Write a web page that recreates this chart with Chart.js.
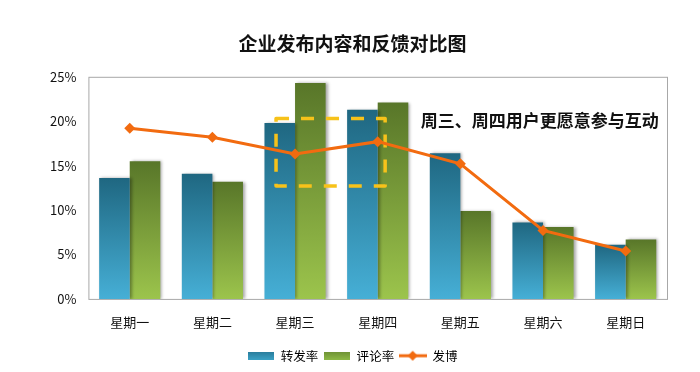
<!DOCTYPE html>
<html>
<head>
<meta charset="utf-8">
<script src="https://cdn.jsdelivr.net/npm/chart.js@4.4.1/dist/chart.umd.min.js"></script>
<style>
  html, body { margin: 0; padding: 0; background: #fff; }
  #wrap { width: 700px; height: 372px; position: relative; }
</style>
</head>
<body>
<div id="wrap"><canvas id="chart"></canvas></div>
<script>
// 数据（单位：%）
const days = ['星期一', '星期二', '星期三', '星期四', '星期五', '星期六', '星期日'];
const forwardRate = [13.6, 14.1, 19.8, 21.3, 16.4, 8.6, 6.1];   // 转发率
const commentRate = [15.5, 13.2, 24.3, 22.1, 9.9, 8.1, 6.7];    // 评论率
const postTrend = [19.2, 18.2, 16.3, 17.7, 15.2, 7.7, 5.4];     // 发博
const yTicks = [0, 5, 10, 15, 20, 25];

// 标注：虚线框范围（类目下标 / 百分比）与说明文字
const noteBoxX = [1.77, 3.09];
const noteBoxY = [12.7, 20.3];
const noteText = '周三、周四用户更愿意参与互动';
const noteAt = [4.96, 20.1];

const FONT = '"Noto Sans CJK SC", "Noto Sans", sans-serif';
const ORANGE = '#f26b10';

// 每根柱子自身从上到下的渐变
function barGradient(top, bottom) {
  return (c) => {
    const chart = c.chart;
    const area = chart.chartArea;
    if (!area || c.raw == null) return bottom;
    const y = chart.scales.y.getPixelForValue(c.raw);
    const g = chart.ctx.createLinearGradient(0, y, 0, area.bottom);
    g.addColorStop(0, top);
    g.addColorStop(1, bottom);
    return g;
  };
}

// 图例小图标
function icon(w, h, draw) {
  const cv = document.createElement('canvas');
  cv.width = w;
  cv.height = h;
  draw(cv.getContext('2d'), w, h);
  return cv;
}
function boxIcon(top, bottom) {
  return icon(26, 8, (ctx, w, h) => {
    const g = ctx.createLinearGradient(0, 0, 0, h);
    g.addColorStop(0, top);
    g.addColorStop(1, bottom);
    ctx.fillStyle = g;
    ctx.fillRect(0, 0, w, h);
  });
}
const lineIcon = icon(28, 12, (ctx, w, h) => {
  ctx.strokeStyle = ORANGE;
  ctx.lineWidth = 3;
  ctx.beginPath();
  ctx.moveTo(0, h / 2);
  ctx.lineTo(w, h / 2);
  ctx.stroke();
  ctx.fillStyle = ORANGE;
  ctx.beginPath();
  ctx.moveTo(w / 2, h / 2 - 5);
  ctx.lineTo(w / 2 + 5, h / 2);
  ctx.lineTo(w / 2, h / 2 + 5);
  ctx.lineTo(w / 2 - 5, h / 2);
  ctx.closePath();
  ctx.fill();
});

// 绘图区外框 + 柱子阴影 + 虚线框标注
const decorPlugin = {
  id: 'decor',
  beforeDatasetsDraw(chart) {
    const { ctx, chartArea: a } = chart;
    ctx.save();
    ctx.strokeStyle = '#a8a8a8';
    ctx.lineWidth = 1;
    ctx.strokeRect(a.left + 0.5, a.top + 0.5, a.right - a.left, a.bottom - a.top);
    ctx.restore();
  },
  beforeDatasetDraw(chart, args) {
    const ctx = chart.ctx;
    if (args.meta.type === 'bar') {
      ctx.save();
      ctx.shadowColor = 'rgba(0,0,0,0.35)';
      ctx.shadowOffsetX = 2;
      ctx.shadowOffsetY = 0;
      ctx.shadowBlur = 3;
    } else {
      const x = chart.scales.x, y = chart.scales.y;
      const l = x.getPixelForValue(noteBoxX[0]), r = x.getPixelForValue(noteBoxX[1]);
      const t = y.getPixelForValue(noteBoxY[1]), b = y.getPixelForValue(noteBoxY[0]);
      ctx.save();
      ctx.strokeStyle = '#f7c21a';
      ctx.lineWidth = 3.5;
      ctx.lineJoin = 'round';
      ctx.setLineDash([13, 12]);
      ctx.strokeRect(l, t, r - l, b - t);
      ctx.restore();
    }
  },
  afterDatasetDraw(chart, args) {
    if (args.meta.type === 'bar') chart.ctx.restore();
  },
  afterDatasetsDraw(chart) {
    const ctx = chart.ctx;
    ctx.save();
    ctx.font = 'bold 17px ' + FONT;
    ctx.fillStyle = '#111';
    ctx.textAlign = 'center';
    ctx.textBaseline = 'middle';
    ctx.fillText(noteText, chart.scales.x.getPixelForValue(noteAt[0]), chart.scales.y.getPixelForValue(noteAt[1]));
    ctx.restore();
  }
};

new Chart(document.getElementById('chart'), {
  data: {
    labels: days,
    datasets: [
      {
        type: 'line',
        label: '发博',
        data: postTrend,
        order: 0,
        borderColor: ORANGE,
        backgroundColor: ORANGE,
        borderWidth: 3,
        tension: 0,
        pointStyle: 'rectRot',
        pointRadius: 5.5,
        pointBackgroundColor: ORANGE,
        pointBorderColor: ORANGE,
        pointBorderWidth: 0,
      },
      {
        type: 'bar',
        label: '转发率',
        data: forwardRate,
        order: 1,
        backgroundColor: barGradient('#1f6781', '#46afd6'),
        borderWidth: 0,
        barPercentage: 1,
        categoryPercentage: 0.74,
      },
      {
        type: 'bar',
        label: '评论率',
        data: commentRate,
        order: 1,
        backgroundColor: barGradient('#587629', '#9cc44c'),
        borderWidth: 0,
        barPercentage: 1,
        categoryPercentage: 0.74,
      },
    ],
  },
  options: {
    responsive: true,
    maintainAspectRatio: false,
    animation: false,
    layout: { padding: { left: 38, right: 33, top: 0, bottom: 0 } },
    plugins: {
      title: {
        display: true,
        text: '企业发布内容和反馈对比图',
        color: '#111',
        font: { family: FONT, size: 19, weight: 'bold' },
        padding: { top: 32, bottom: 22 },
      },
      legend: {
        position: 'bottom',
        labels: {
          usePointStyle: true,
          pointStyleWidth: 27,
          boxHeight: 12,
          padding: 5,
          color: '#111',
          font: { family: FONT, size: 12.5 },
          generateLabels: () => [
            { text: '转发率', pointStyle: boxIcon('#2a7c9c', '#3aa0c4'), datasetIndex: 1, hidden: false, lineWidth: 0 },
            { text: '评论率', pointStyle: boxIcon('#6f9236', '#8db846'), datasetIndex: 2, hidden: false, lineWidth: 0 },
            { text: '发博', pointStyle: lineIcon, datasetIndex: 0, hidden: false, lineWidth: 0 },
          ],
        },
      },
      tooltip: { enabled: false },
    },
    scales: {
      x: {
        grid: { display: false, drawTicks: false },
        border: { display: false },
        ticks: { color: '#111', padding: 15, font: { family: FONT, size: 13 } },
      },
      y: {
        min: yTicks[0],
        max: yTicks[yTicks.length - 1],
        afterBuildTicks: (axis) => { axis.ticks = yTicks.map((v) => ({ value: v })); },
        grid: { display: false, drawTicks: false },
        border: { display: false },
        ticks: { color: '#111', padding: 12, font: { family: FONT, size: 13 }, callback: (v) => v + '%' },
      },
    },
  },
  plugins: [decorPlugin],
});
</script>
</body>
</html>
